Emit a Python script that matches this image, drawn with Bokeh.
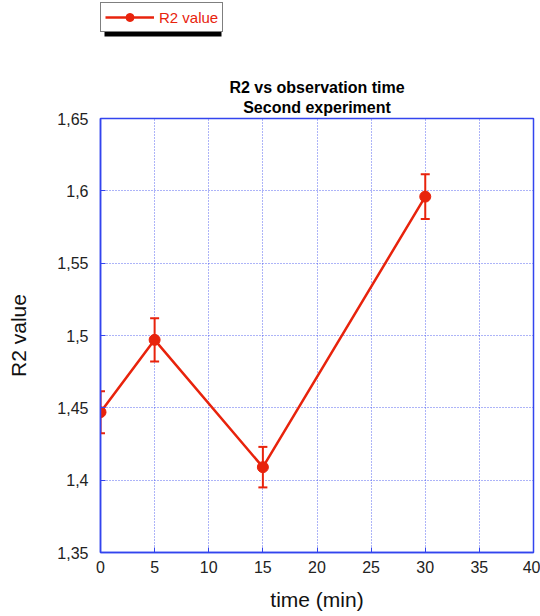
from bokeh.plotting import figure
from bokeh.layouts import column
from bokeh.models import ColumnDataSource, Whisker, TeeHead, Legend, LegendItem, Range1d, FixedTicker, Title, BoxAnnotation
from bokeh.embed import file_html
from bokeh.resources import INLINE

# R2 measurements over observation time (second experiment)
time_min = [0, 5, 15, 30]
r2_value = [1.447, 1.497, 1.409, 1.596]
r2_error = [0.0145, 0.015, 0.014, 0.0155]

x_ticks = [0, 5, 10, 15, 20, 25, 30, 35, 40]
y_ticks = [1.35, 1.4, 1.45, 1.5, 1.55, 1.6, 1.65]
y_tick_labels = ["1,35", "1,4", "1,45", "1,5", "1,55", "1,6", "1,65"]

RED = "#e8230c"
BLUE = "#3344ee"
FONT = "Liberation Sans"

src = ColumnDataSource(dict(
    x=time_min,
    y=r2_value,
    lo=[v - e for v, e in zip(r2_value, r2_error)],
    hi=[v + e for v, e in zip(r2_value, r2_error)],
))

# ---- main chart -------------------------------------------------------
p = figure(width=540, height=576, output_backend="svg", toolbar_location=None,
           x_range=Range1d(0, 40), y_range=Range1d(1.35, 1.65),
           min_border_left=100, min_border_right=7, min_border_top=78,
           min_border_bottom=64)
p.title = None
title_style = dict(align="center", text_font=FONT, text_font_size="16px",
                   text_font_style="bold", text_color="black")
p.add_layout(Title(text="Second experiment", standoff=6, **title_style), "above")
p.add_layout(Title(text="R2 vs observation time", standoff=-4, **title_style), "above")

p.outline_line_color = BLUE
p.outline_line_width = 1.5
p.background_fill_color = "white"
p.border_fill_color = "white"

for ax in (p.xaxis[0], p.yaxis[0]):
    ax.axis_line_color = BLUE
    ax.axis_line_width = 1.5
    ax.major_tick_line_color = BLUE
    ax.major_tick_in = 5
    ax.major_tick_out = 0
    ax.minor_tick_line_color = None
    ax.major_label_text_font = FONT
    ax.major_label_text_font_size = "16px"
    ax.major_label_text_color = "#222222"
    ax.axis_label_text_font = FONT
    ax.axis_label_text_font_size = "21px"
    ax.axis_label_text_font_style = "normal"
    ax.axis_label_text_color = "#111111"

p.xaxis.ticker = FixedTicker(ticks=x_ticks)
p.yaxis.ticker = FixedTicker(ticks=y_ticks)
p.yaxis.major_label_overrides = dict(zip(y_ticks, y_tick_labels))
p.xaxis.axis_label = "time (min)"
p.yaxis.axis_label = "R2 value"
p.xaxis.major_label_standoff = 8
p.yaxis.major_label_standoff = 12
p.xaxis.axis_label_standoff = 12
p.yaxis.axis_label_standoff = 24

p.grid.grid_line_color = BLUE
p.grid.grid_line_alpha = 0.8
p.grid.grid_line_dash = "1 2"
p.grid.grid_line_width = 1

line = p.line("x", "y", source=src, line_color=RED, line_width=2.5)
pts = p.scatter("x", "y", source=src, size=11, fill_color=RED, line_color=RED)

whisk = Whisker(source=src, base="x", lower="lo", upper="hi", dimension="height",
                line_color=RED, line_width=2,
                lower_head=TeeHead(size=9, line_color=RED, line_width=2),
                upper_head=TeeHead(size=9, line_color=RED, line_width=2))
p.add_layout(whisk)

# ---- legend strip above the chart ------------------------------------
lg = figure(width=540, height=40, output_backend="svg", toolbar_location=None,
            x_range=Range1d(0, 40), y_range=Range1d(0, 1),
            min_border=0)
lg.axis.visible = False
lg.grid.visible = False
lg.outline_line_color = None
lg.title = None

# key glyphs: same styling as the series, one point kept off-screen
key_src = ColumnDataSource(dict(x=[-10], y=[-10]))
key_line = lg.line("x", "y", source=key_src, line_color=RED, line_width=2.5)
key_pts = lg.scatter("x", "y", source=key_src, size=11, fill_color=RED, line_color=RED)

# offset box giving the legend a drop shadow
shadow = BoxAnnotation(left=4, right=121, top=30, bottom=4,
                       left_units="screen", right_units="screen",
                       top_units="screen", bottom_units="screen",
                       fill_color="black", fill_alpha=1, line_color=None)
lg.add_layout(shadow)

legend = Legend(items=[LegendItem(label="R2 value", renderers=[key_line, key_pts])],
                location=(0, 8), orientation="horizontal",
                label_text_font=FONT, label_text_font_size="15px",
                label_text_color=RED, border_line_color="black",
                border_line_width=1, background_fill_color="white",
                background_fill_alpha=1, glyph_width=49, glyph_height=20,
                padding=4, margin=0, label_standoff=5, spacing=0)
lg.add_layout(legend)

layout = column(lg, p, spacing=0)
open("out.html", "w").write(file_html(layout, INLINE))
